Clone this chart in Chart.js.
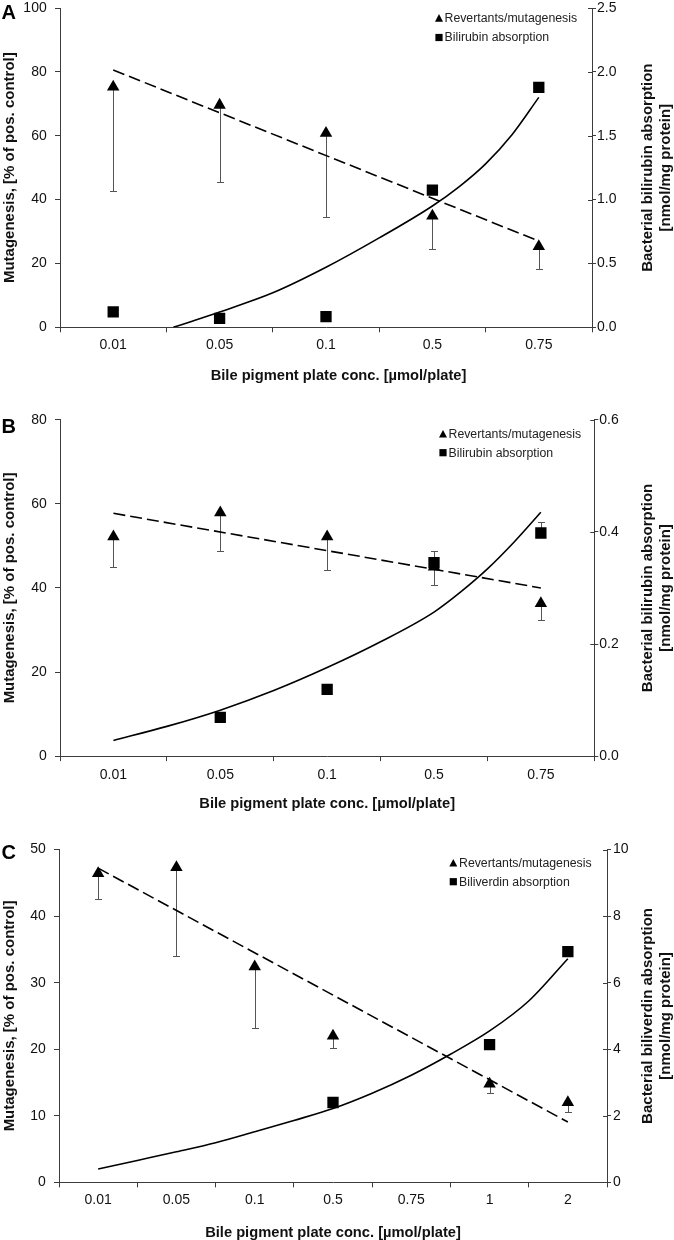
<!DOCTYPE html>
<html>
<head>
<meta charset="utf-8">
<script src="https://cdn.jsdelivr.net/npm/chart.js@4.4.0/dist/chart.umd.min.js"></script>
<style>
html, body { margin: 0; padding: 0; background: #ffffff; }
body { width: 674px; height: 1240px; position: relative; overflow: hidden; }
.panel { position: absolute; left: 0; width: 674px; }
canvas { display: block; }
</style>
</head>
<body>
<div class="panel" style="top:0px;height:400px"><canvas id="cA" width="674" height="400"></canvas></div>
<div class="panel" style="top:410px;height:405px"><canvas id="cB" width="674" height="405"></canvas></div>
<div class="panel" style="top:830px;height:410px"><canvas id="cC" width="674" height="410"></canvas></div>
<script>
// ---------- shared text ----------
const leftTitle = 'Mutagenesis, [% of pos. control]';
const xTitle = 'Bile pigment plate conc. [µmol/plate]';

// ---------- Panel A ----------
const catsA = ['0.01', '0.05', '0.1', '0.5', '0.75'];
const revA = [75.3, 69.6, 60.8, 34.9, 25.3];
const revErrA = [32.7, 24.1, 26.3, 10.5, 6.9];
const absA = [0.121, 0.070, 0.083, 1.074, 1.878];
const absErrA = [0, 0, 0, 0, 0.046];
const trendRevPosA = [0, 4];
const trendRevA = [80.6, 27.0];
const trendAbsPosA = [0.565, 0.75, 1, 1.5, 2, 2.5, 3, 3.25, 3.5, 3.75, 4];
const trendAbsA = [0, 0.05, 0.12, 0.27, 0.47, 0.70, 0.95, 1.10, 1.28, 1.51, 1.80];
const leftTicksA = [0, 20, 40, 60, 80, 100];
const rightTicksA = [0, 0.5, 1, 1.5, 2, 2.5];
const rightTickLabelsA = ['0.0', '0.5', '1.0', '1.5', '2.0', '2.5'];
const seriesNamesA = ['Revertants/mutagenesis', 'Bilirubin absorption'];
const rightTitleA = ['Bacterial bilirubin absorption', '[nmol/mg protein]'];

// ---------- Panel B ----------
const catsB = ['0.01', '0.05', '0.1', '0.5', '0.75'];
const revB = [52.2, 57.9, 52.2, 45.0, 36.3];
const revErrB = [7.3, 9.2, 8.0, 4.2, 3.9];
const absB = [null, 0.069, 0.119, 0.345, 0.398];
const absErrB = [0, 0, 0.004, 0.021, 0.019];
const trendRevPosB = [0, 4];
const trendRevB = [57.75, 40.0];
const trendAbsPosB = [0, 0.5, 1, 1.5, 2, 2.5, 3, 3.25, 3.5, 3.75, 4];
const trendAbsB = [0.028, 0.053, 0.082, 0.117, 0.158, 0.204, 0.257, 0.293, 0.334, 0.382, 0.435];
const leftTicksB = [0, 20, 40, 60, 80];
const rightTicksB = [0, 0.2, 0.4, 0.6];
const rightTickLabelsB = ['0.0', '0.2', '0.4', '0.6'];
const seriesNamesB = ['Revertants/mutagenesis', 'Bilirubin absorption'];
const rightTitleB = ['Bacterial bilirubin absorption', '[nmol/mg protein]'];

// ---------- Panel C ----------
const catsC = ['0.01', '0.05', '0.1', '0.5', '0.75', '1', '2'];
const revC = [46.4, 47.3, 32.4, 22.0, null, 14.8, 12.0];
const revErrC = [3.9, 13.3, 9.2, 1.8, null, 1.3, 1.5];
const absC = [null, null, null, 2.40, null, 4.14, 6.93];
const absErrC = [0, 0, 0, 0, 0, 0, 0];
const trendRevPosC = [0, 6];
const trendRevC = [47.2, 9.07];
const trendAbsPosC = [0, 0.5, 1, 1.5, 2, 2.5, 3, 3.5, 4, 4.5, 5, 5.5, 6];
const trendAbsC = [0.40, 0.66, 0.92, 1.19, 1.52, 1.86, 2.22, 2.68, 3.22, 3.85, 4.55, 5.45, 6.72];
const leftTicksC = [0, 10, 20, 30, 40, 50];
const rightTicksC = [0, 2, 4, 6, 8, 10];
const rightTickLabelsC = ['0', '2', '4', '6', '8', '10'];
const seriesNamesC = ['Revertants/mutagenesis', 'Biliverdin absorption'];
const rightTitleC = ['Bacterial biliverdin absorption', '[nmol/mg protein]'];

// ---------- styling ----------
const FONT = "'Liberation Sans', Arial, Helvetica, sans-serif";
const AX = '#3c3c3c';
const TXT = '#111111';
const ERR = '#555555';

const extrasPlugin = {
  id: 'extras',
  beforeDatasetsDraw(chart, args, o) {
    const ctx = chart.ctx;
    const xs = chart.scales.xl;
    (o.errorBars || []).forEach(eb => {
      const ys = chart.scales[eb.axis];
      ctx.save();
      ctx.strokeStyle = eb.color;
      ctx.lineWidth = 1;
      eb.values.forEach((v, i) => {
        const e = eb.errors[i];
        if (v === null || v === undefined || !e) return;
        const x = Math.round(xs.getPixelForValue(i)) + 0.5;
        const y0 = ys.getPixelForValue(v);
        const y1 = Math.round(ys.getPixelForValue(v + eb.dir * e)) + 0.5;
        ctx.beginPath();
        ctx.moveTo(x, y0);
        ctx.lineTo(x, y1);
        ctx.moveTo(x - eb.cap, y1);
        ctx.lineTo(x + eb.cap, y1);
        ctx.stroke();
      });
      ctx.restore();
    });
  },
  afterDraw(chart, args, o) {
    const ctx = chart.ctx;
    const area = chart.chartArea;
    // inner half of the right-axis tick marks
    const yr = chart.scales.y1;
    ctx.save();
    ctx.strokeStyle = AX;
    ctx.lineWidth = 1;
    yr.ticks.forEach(t => {
      const y = Math.round(yr.getPixelForValue(t.value)) + 0.5;
      ctx.beginPath();
      ctx.moveTo(area.right - 4, y);
      ctx.lineTo(area.right, y);
      ctx.stroke();
    });
    ctx.restore();
    // x-axis title when it is not centred on the plot
    if (o.xTitleCenter) {
      const xs = chart.scales.x;
      ctx.save();
      ctx.fillStyle = TXT;
      ctx.font = 'bold 14.7px ' + FONT;
      ctx.textAlign = 'center';
      ctx.textBaseline = 'middle';
      ctx.fillText(o.xTitleText, o.xTitleCenter, xs.bottom - o.xTitleOffset);
      ctx.restore();
    }
    // right axis title (reads bottom to top)
    const yc = (area.top + area.bottom) / 2;
    ctx.save();
    ctx.fillStyle = TXT;
    ctx.font = 'bold 15px ' + FONT;
    ctx.textAlign = 'center';
    ctx.textBaseline = 'middle';
    o.rightTitle.forEach((line, k) => {
      ctx.save();
      ctx.translate(o.rightTitleX[k], yc);
      ctx.rotate(-Math.PI / 2);
      ctx.fillText(line, 0, 0);
      ctx.restore();
    });
    ctx.restore();
    // legend
    const lg = o.legend;
    ctx.save();
    ctx.font = '12.3px ' + FONT;
    ctx.textAlign = 'left';
    ctx.textBaseline = 'middle';
    [0, 1].forEach(k => {
      const ds = chart.data.datasets[k];
      const y = lg.rows[k];
      ctx.fillStyle = '#000';
      ctx.beginPath();
      if (ds.pointStyle === 'triangle') {
        ctx.moveTo(lg.x, y - 4.4);
        ctx.lineTo(lg.x + 4, y + 3.2);
        ctx.lineTo(lg.x - 4, y + 3.2);
        ctx.closePath();
      } else {
        ctx.rect(lg.x - 3.6, y - 3.6, 7.2, 7.2);
      }
      ctx.fill();
      ctx.fillStyle = '#222';
      ctx.fillText(ds.label, lg.textX, y + 0.5);
    });
    ctx.restore();
    // panel letter
    ctx.save();
    ctx.fillStyle = '#000';
    ctx.font = 'bold 20px ' + FONT;
    ctx.textAlign = 'left';
    ctx.textBaseline = 'alphabetic';
    ctx.fillText(o.letter, 1.5, o.letterY);
    ctx.restore();
  }
};

function points(pos, vals) {
  return vals.map((v, i) => ({ x: pos[i], y: v }));
}
function catPoints(vals) {
  return vals.map((v, i) => ({ x: i, y: v }));
}

function makePanel(id, d, L) {
  const n = d.cats.length;
  const ownTitle = !!L.xTitleCenter;
  new Chart(document.getElementById(id), {
    type: 'line',
    data: {
      labels: d.cats,
      datasets: [
        {
          label: d.names[0], data: catPoints(d.rev), xAxisID: 'xl', yAxisID: 'y',
          showLine: false, pointStyle: 'triangle', pointRadius: 7.2,
          pointBackgroundColor: '#000', pointBorderColor: '#000', pointBorderWidth: 0
        },
        {
          label: d.names[1], data: catPoints(d.abs), xAxisID: 'xl', yAxisID: 'y1',
          showLine: false, pointStyle: 'rect', pointRadius: 8,
          pointBackgroundColor: '#000', pointBorderColor: '#000', pointBorderWidth: 0
        },
        {
          label: 'trend-rev', data: points(d.trendRevPos, d.trendRev), xAxisID: 'xl', yAxisID: 'y',
          borderColor: '#000', borderWidth: 1.6, borderDash: [12, 5], pointRadius: 0, fill: false
        },
        {
          label: 'trend-abs', data: points(d.trendAbsPos, d.trendAbs), xAxisID: 'xl', yAxisID: 'y1',
          borderColor: '#000', borderWidth: 1.6, pointRadius: 0, fill: false,
          cubicInterpolationMode: 'monotone'
        }
      ]
    },
    options: {
      responsive: false,
      maintainAspectRatio: false,
      animation: false,
      events: [],
      layout: { padding: { top: L.top, left: 0, right: 0, bottom: 0 } },
      plugins: {
        legend: { display: false },
        tooltip: { enabled: false },
        extras: {
          errorBars: [
            { axis: 'y', values: d.rev, errors: d.revErr, dir: -1, cap: 3.5, color: ERR },
            { axis: 'y1', values: d.abs, errors: d.absErr, dir: 1, cap: 3.5, color: ERR }
          ],
          rightTitle: d.rightTitle,
          rightTitleX: [648, 666],
          legend: L.legend,
          letter: L.letter,
          letterY: L.letterY,
          xTitleCenter: L.xTitleCenter || 0,
          xTitleText: xTitle,
          xTitleOffset: 7.35 + L.xTitlePad
        }
      },
      scales: {
        x: {
          type: 'category', position: 'bottom', offset: true,
          grid: { offset: true, drawOnChartArea: false, drawTicks: true, tickLength: 5, color: AX, lineWidth: 1 },
          border: { display: true, color: AX, width: 1 },
          ticks: { font: { family: FONT, size: 14 }, color: TXT, padding: L.xPad, maxRotation: 0, autoSkip: false },
          title: { display: !ownTitle, text: xTitle, color: TXT,
                   font: { family: FONT, size: 14.7, weight: 'bold', lineHeight: 1 },
                   padding: { top: 0, bottom: L.xTitlePad } },
          afterFit(s) { s.height = L.xHeight; s.paddingLeft = 0; s.paddingRight = 0; }
        },
        xl: { type: 'linear', display: false, min: -0.5, max: n - 0.5 },
        y: {
          type: 'linear', position: 'left', min: d.leftTicks[0], max: d.leftTicks[d.leftTicks.length - 1],
          afterBuildTicks(s) { s.ticks = d.leftTicks.map(v => ({ value: v })); },
          grid: { drawOnChartArea: false, drawTicks: true, tickLength: 5, color: AX, lineWidth: 1 },
          border: { display: true, color: AX, width: 1 },
          ticks: { font: { family: FONT, size: 14 }, color: TXT, padding: 8.3 },
          title: { display: true, text: leftTitle, color: TXT,
                   font: { family: FONT, size: 15, weight: 'bold', lineHeight: 1 },
                   padding: { top: 2, bottom: 0 } },
          afterFit(s) { s.width = L.leftW; s.paddingTop = 0; s.paddingBottom = 0; }
        },
        y1: {
          type: 'linear', position: 'right', min: d.rightTicks[0], max: d.rightTicks[d.rightTicks.length - 1],
          afterBuildTicks(s) { s.ticks = d.rightTicks.map(v => ({ value: v })); },
          grid: { drawOnChartArea: false, drawTicks: true, tickLength: 4, color: AX, lineWidth: 1 },
          border: { display: true, color: AX, width: 1 },
          ticks: { font: { family: FONT, size: 14 }, color: TXT, padding: L.rPad,
                   callback: (v, i) => d.rightLabels[i] },
          afterFit(s) { s.width = L.rightW; s.paddingTop = 0; s.paddingBottom = 0; }
        }
      }
    },
    plugins: [extrasPlugin]
  });
}

makePanel('cA', {
  cats: catsA, rev: revA, revErr: revErrA, abs: absA, absErr: absErrA,
  trendRevPos: trendRevPosA, trendRev: trendRevA, trendAbsPos: trendAbsPosA, trendAbs: trendAbsA,
  leftTicks: leftTicksA, rightTicks: rightTicksA, rightLabels: rightTickLabelsA,
  names: seriesNamesA, rightTitle: rightTitleA
}, {
  top: 6, leftW: 60, rightW: 82, xHeight: 72.7, xPad: 4.3, xTitlePad: 16.6, rPad: 1,
  xTitleCenter: 338.5,
  legend: { x: 439, textX: 444.5, rows: [18.5, 37.5] }, letter: 'A', letterY: 19.3
});

makePanel('cB', {
  cats: catsB, rev: revB, revErr: revErrB, abs: absB, absErr: absErrB,
  trendRevPos: trendRevPosB, trendRev: trendRevB, trendAbsPos: trendAbsPosB, trendAbs: trendAbsB,
  leftTicks: leftTicksB, rightTicks: rightTicksB, rightLabels: rightTickLabelsB,
  names: seriesNamesB, rightTitle: rightTitleB
}, {
  top: 9.8, leftW: 60, rightW: 79.7, xHeight: 58.9, xPad: 5.5, xTitlePad: 3.3, rPad: 1,
  legend: { x: 443, textX: 448.5, rows: [24.3, 42.7] }, letter: 'B', letterY: 23.3
});

makePanel('cC', {
  cats: catsC, rev: revC, revErr: revErrC, abs: absC, absErr: absErrC,
  trendRevPos: trendRevPosC, trendRev: trendRevC, trendAbsPos: trendAbsPosC, trendAbs: trendAbsC,
  leftTicks: leftTicksC, rightTicks: rightTicksC, rightLabels: rightTickLabelsC,
  names: seriesNamesC, rightTitle: rightTitleC
}, {
  top: 19.5, leftW: 59, rightW: 67, xHeight: 57.6, xPad: 4.2, xTitlePad: 0, rPad: 2,
  legend: { x: 453.3, textX: 459, rows: [33.3, 51.7] }, letter: 'C', letterY: 28.5
});
</script>
</body>
</html>
